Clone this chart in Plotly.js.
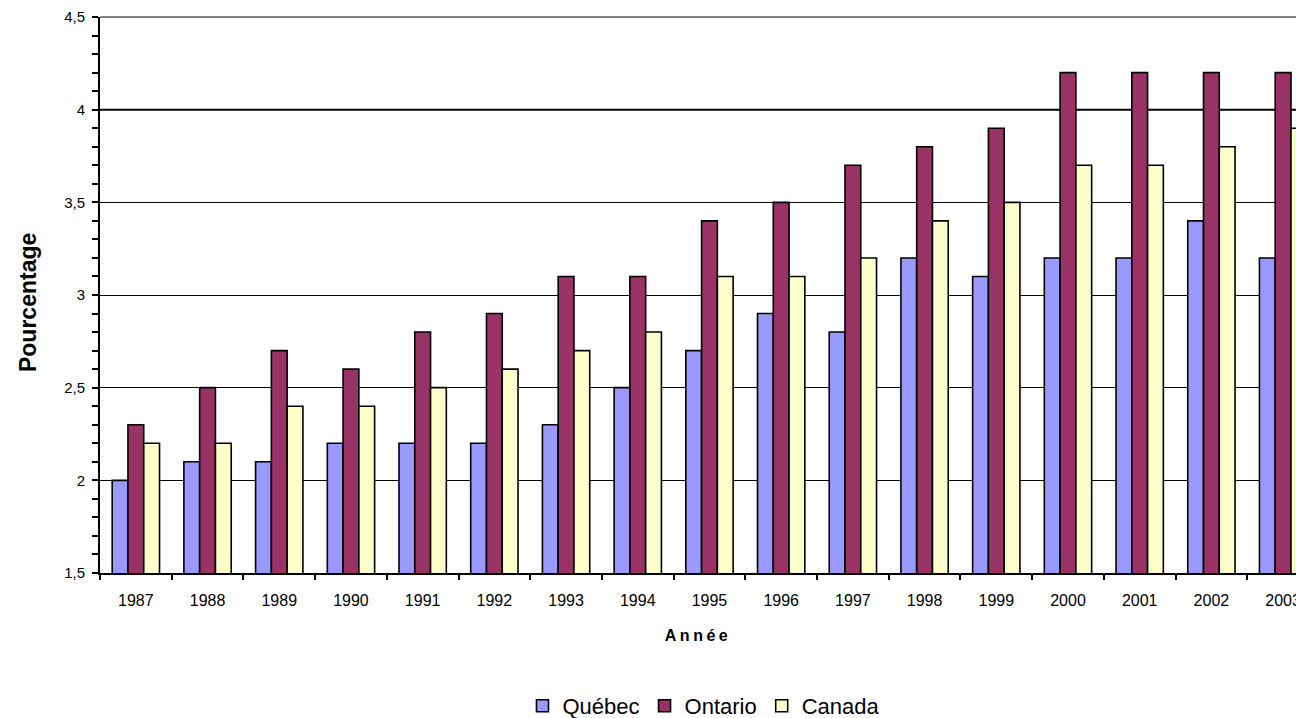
<!DOCTYPE html>
<html>
<head>
<meta charset="utf-8">
<script src="https://cdn.plot.ly/plotly-3.0.1.min.js"></script>
<style>
  html, body { margin: 0; padding: 0; background: #ffffff; }
  #chart { width: 1296px; height: 718px; }
  .xtitle { letter-spacing: 3.5px; }
</style>
</head>
<body>
<div id="chart"></div>
<script>
// Taux annuels (%) par région, 1987–2003
const annees = ['1987','1988','1989','1990','1991','1992','1993','1994','1995',
                '1996','1997','1998','1999','2000','2001','2002','2003'];
const quebec  = [2.0, 2.1, 2.1, 2.2, 2.2, 2.2, 2.3, 2.5, 2.7, 2.9, 2.8, 3.2, 3.1, 3.2, 3.2, 3.4, 3.2];
const ontario = [2.3, 2.5, 2.7, 2.6, 2.8, 2.9, 3.1, 3.1, 3.4, 3.5, 3.7, 3.8, 3.9, 4.2, 4.2, 4.2, 4.2];
const canada  = [2.2, 2.2, 2.4, 2.4, 2.5, 2.6, 2.7, 2.8, 3.1, 3.1, 3.2, 3.4, 3.5, 3.7, 3.7, 3.8, 3.9];
const seriesNames = ['Québec', 'Ontario', 'Canada'];
const seriesColors = ['#9999ff', '#993366', '#ffffcc'];
const yTickVals = [1.5, 2, 2.5, 3, 3.5, 4, 4.5];
const yTickText = ['1,5', '2', '2,5', '3', '3,5', '4', '4,5'];

const traces = [quebec, ontario, canada].map((vals, i) => ({
  type: 'bar',
  name: seriesNames[i],
  x: annees,
  y: vals,
  marker: { color: seriesColors[i], line: { color: '#000000', width: 1.6 } }
}));

const layout = {
  width: 1296,
  height: 718,
  paper_bgcolor: '#ffffff',
  plot_bgcolor: 'rgba(0,0,0,0)',
  font: { family: 'Liberation Sans, Arial, sans-serif', color: '#000000', size: 15 },
  margin: { l: 100, r: 0, t: 17, b: 145, autoexpand: false },
  barmode: 'group',
  bargap: 0.34,
  bargroupgap: 0,
  showlegend: true,
  legend: {
    orientation: 'h',
    x: 0.505, xanchor: 'center',
    y: -0.239, yanchor: 'middle',
    bgcolor: '#ffffff',
    font: { size: 22, family: 'Liberation Sans, Arial, sans-serif' },
    itemwidth: 30,
    traceorder: 'normal'
  },
  xaxis: {
    type: 'category',
    range: [-0.5, 16.18],
    showgrid: false,
    showline: true, linecolor: '#000000', linewidth: 2,
    ticks: 'outside', tickson: 'boundaries', ticklen: 5, tickwidth: 2, tickcolor: '#000000',
    ticklabelstandoff: 12,
    tickfont: { size: 16 },
    title: { text: 'Année', font: { size: 16, weight: 'bold' }, standoff: 22 },
    automargin: false,
    fixedrange: true
  },
  yaxis: {
    range: [1.5, 4.5],
    tickvals: yTickVals,
    ticktext: yTickText,
    showgrid: true, gridcolor: '#000000', gridwidth: 1,
    zeroline: false,
    showline: true, linecolor: '#000000', linewidth: 2,
    ticks: 'outside', ticklen: 6, tickwidth: 2, tickcolor: '#000000',
    minor: { dtick: 0.1, ticks: 'outside', ticklen: 6, tickwidth: 2, tickcolor: '#000000', showgrid: false },
    ticklabelstandoff: 4,
    tickfont: { size: 15 },
    automargin: false,
    fixedrange: true
  },
  annotations: [
    { text: 'Pourcentage', textangle: -90, showarrow: false,
      xref: 'paper', yref: 'paper', x: -0.06, y: 0.486,
      xanchor: 'center', yanchor: 'middle',
      font: { size: 23, weight: 'bold' } }
  ],
  shapes: [
    { type: 'line', xref: 'paper', yref: 'y', x0: 0, x1: 1, y0: 4, y1: 4,
      line: { color: '#000000', width: 2 }, layer: 'below' },
    { type: 'line', xref: 'paper', yref: 'paper', x0: 0, x1: 1, y0: 1, y1: 1,
      line: { color: '#808080', width: 2 }, layer: 'above' }
  ]
};

Plotly.newPlot('chart', traces, layout, { displayModeBar: false, staticPlot: true });
</script>
</body>
</html>
